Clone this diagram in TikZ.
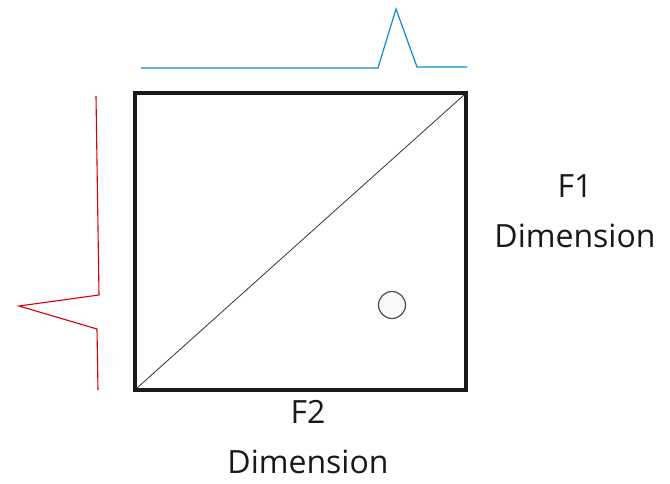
\documentclass[tikz,border=0pt]{standalone}
\usepackage{fontspec}
\setmainfont{Open Sans}
\begin{document}
\begin{tikzpicture}[x=1pt,y=-1pt,
  lbl/.style={font=\fontsize{32}{50}\selectfont, align=center, inner sep=0pt, text=black!90},
  bluesig/.style={draw=cyan!70!blue, line width=1.2pt},
  redsig/.style={draw=red!85!black, line width=1.1pt}]
\useasboundingbox (0,0) rectangle (670,484);
% square
\draw[line width=4pt, draw=black!90] (135,93) rectangle (466,390);
\coordinate (bl) at (137,388);
\coordinate (tr) at (464,95);
\draw[line width=0.8pt, black!80] (bl) -- (tr);
% circle
\node[circle, draw=black!70, fill=gray!5, line width=1.2pt, minimum size=27pt, inner sep=0pt] (dot) at (392,305) {};
% blue signal
\coordinate (b0) at (141,68);
\coordinate (b1) at (378,68);
\coordinate (b2) at (396,9);
\coordinate (b3) at (417,67);
\coordinate (b4) at (467,67);
\draw[bluesig] (b0) -- (b1) -- (b2) -- (b3) -- (b4);
% red signal
\coordinate (r0) at (96,96);
\coordinate (r1) at (99,295);
\coordinate (r2) at (19,306);
\coordinate (r3) at (97,329);
\coordinate (r4) at (98,390);
\draw[redsig] (r0) -- (r1) -- (r2) -- (r3) -- (r4);
% labels
\node[lbl] (f1) at (575,211) {F1\\Dimension};
\node[lbl] (f2) at (308,437) {F2\\Dimension};
\end{tikzpicture}
\end{document}
